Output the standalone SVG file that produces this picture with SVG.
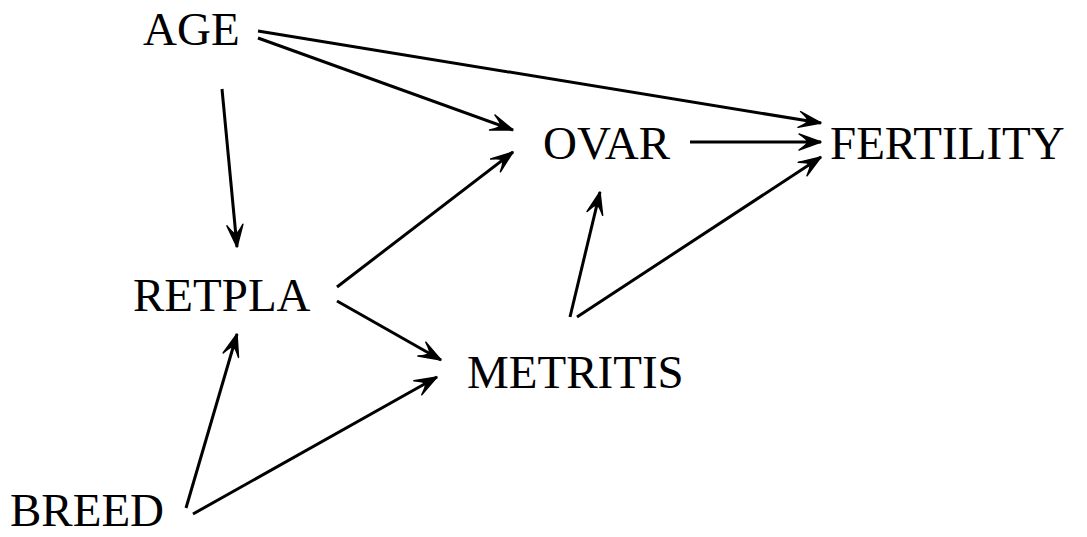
<svg xmlns="http://www.w3.org/2000/svg" width="1087" height="537" viewBox="0 0 1087 537">
<style>
text{font-family:"Liberation Serif","Times New Roman",serif;font-size:47px;fill:#000}
.e{stroke:#000;stroke-width:3;fill:none;marker-end:url(#ah)}
</style>
<defs>
<marker id="ah" markerUnits="userSpaceOnUse" markerWidth="30" markerHeight="20" viewBox="-24 -10 30 20" refX="0" refY="0" orient="auto">
<path d="M0,0 L-22,-8 Q-13,-2 -14,0 Q-13,2 -22,8 Z" fill="#000" stroke="#000" stroke-width="1.5" stroke-linejoin="round"/>
</marker>
</defs>
<rect width="1087" height="537" fill="#fff"/>
<g id="connectors">
<line class="e" x1="258" y1="38" x2="513" y2="130"/>
<line class="e" x1="258" y1="31" x2="821" y2="123"/>
<line class="e" x1="222" y1="89" x2="237" y2="247"/>
<line class="e" x1="690" y1="142" x2="821" y2="142"/>
<line class="e" x1="337" y1="287" x2="513" y2="152"/>
<line class="e" x1="337" y1="301" x2="441" y2="360"/>
<line class="e" x1="570" y1="317" x2="600" y2="192"/>
<line class="e" x1="577" y1="317" x2="821" y2="157"/>
<line class="e" x1="186" y1="508" x2="237" y2="334"/>
<line class="e" x1="193" y1="514" x2="437" y2="377"/>
</g>
<g id="AGE"><text x="143" y="45">AGE</text></g>
<g id="OVAR"><text x="543" y="159">OVAR</text></g>
<g id="FERTILITY"><text x="830" y="159">FERTILITY</text></g>
<g id="RETPLA"><text x="133" y="311">RETPLA</text></g>
<g id="METRITIS"><text x="467" y="388">METRITIS</text></g>
<g id="BREED"><text x="10" y="526">BREED</text></g>
</svg>
